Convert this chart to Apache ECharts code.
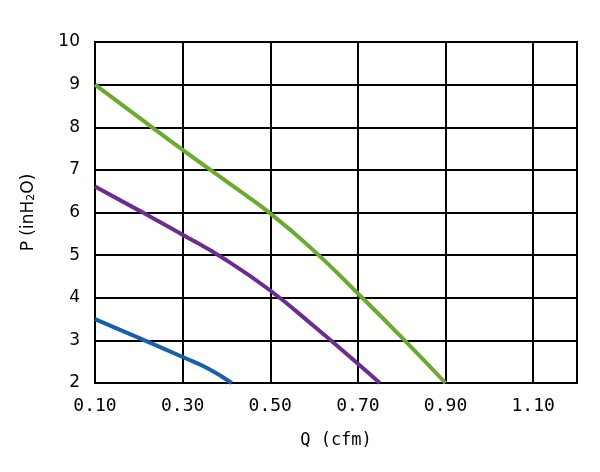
<!DOCTYPE html>
<html>
<head>
<meta charset="utf-8">
<script src="https://cdn.jsdelivr.net/npm/echarts@6/dist/echarts.min.js"></script>
<style>
  html, body { margin: 0; padding: 0; background: #fff; }
  #chart { width: 600px; height: 472px; }
</style>
</head>
<body>
<div id="chart"></div>
<script>
// P-Q curves (Q in cfm, P in inH2O)
const greenQ = [0.10, 0.20, 0.30, 0.40, 0.50, 0.60, 0.70, 0.80, 0.90];
const greenP = [9.0, 8.23, 7.47, 6.73, 5.98, 5.10, 4.10, 3.07, 2.0];
const purpleQ = [0.10, 0.20, 0.30, 0.40, 0.50, 0.60, 0.70, 0.75];
const purpleP = [6.61, 6.05, 5.48, 4.88, 4.17, 3.33, 2.45, 2.0];
const blueQ = [0.10, 0.20, 0.30, 0.36, 0.412];
const blueP = [3.5, 3.06, 2.61, 2.33, 2.0];
const xTicks = ['0.10', '0.30', '0.50', '0.70', '0.90', '1.10'];

const pairs = (qs, ps) => qs.map((q, i) => [q, ps[i]]);

const chart = echarts.init(document.getElementById('chart'));

// one line series
function curve (name, color, data) {
  return {
    name: name,
    type: 'line',
    data: data,
    smooth: 0.5,
    showSymbol: false,
    lineStyle: { color: color, width: 4 },
    z: 5
  };
}

chart.setOption({
  backgroundColor: '#ffffff',
  animation: false,
  grid: { left: 95, right: 23, top: 42, bottom: 89, show: true, borderColor: '#000', borderWidth: 2 },
  xAxis: {
    type: 'value',
    min: 0.1,
    max: 1.2,
    interval: 0.2,
    name: 'Q (cfm)',
    nameLocation: 'middle',
    nameGap: 49,
    nameTextStyle: { fontFamily: 'DejaVu Sans Mono', fontSize: 17, color: '#000' },
    axisLine: { lineStyle: { color: '#000', width: 2 } },
    axisTick: { show: false },
    axisLabel: {
      margin: 14,
      fontFamily: 'DejaVu Sans Mono',
      fontSize: 18,
      color: '#000',
      showMaxLabel: false,
      formatter: function (v) {
        const s = v.toFixed(2);
        return xTicks.indexOf(s) >= 0 ? s : '';
      }
    },
    splitLine: { show: true, lineStyle: { color: '#000', width: 2 } }
  },
  yAxis: {
    type: 'value',
    min: 2,
    max: 10,
    interval: 1,
    name: 'P (inH{sub|2}O)',
    nameLocation: 'middle',
    nameGap: 58,
    nameTextStyle: {
      fontFamily: 'DejaVu Sans',
      fontSize: 17,
      color: '#000',
      rich: {
        sub: { fontFamily: 'DejaVu Sans', fontSize: 11, color: '#000', verticalAlign: 'bottom', padding: [6, 0, 0, 0] }
      }
    },
    axisLine: { lineStyle: { color: '#000', width: 2 } },
    axisTick: { show: false },
    axisLabel: { margin: 15, fontFamily: 'DejaVu Sans', fontSize: 17, color: '#000' },
    splitLine: { show: true, lineStyle: { color: '#000', width: 2 } }
  },
  series: [
    curve('green', '#6aaa2c', pairs(greenQ, greenP)),
    curve('purple', '#6c2c90', pairs(purpleQ, purpleP)),
    curve('blue', '#1660ac', pairs(blueQ, blueP))
  ]
});
</script>
</body>
</html>
